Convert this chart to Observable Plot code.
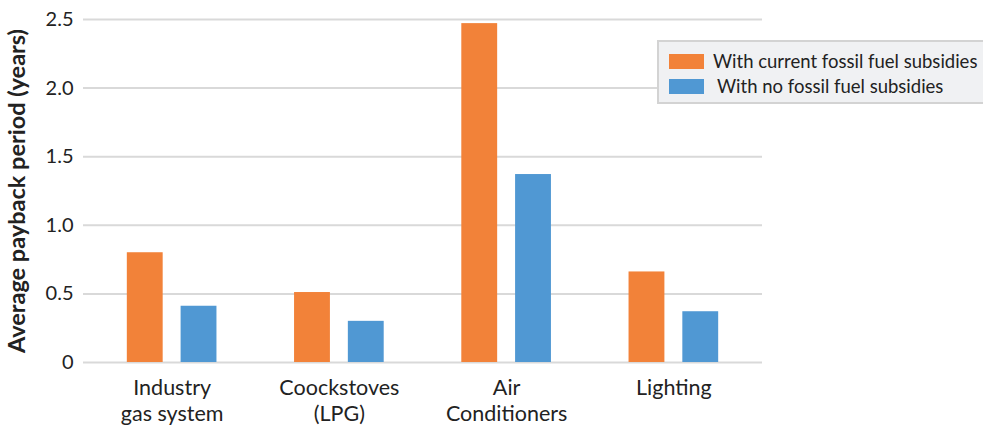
<!DOCTYPE html>
<html>
<head>
<meta charset="utf-8">
<script src="https://cdn.jsdelivr.net/npm/d3@7"></script>
<script src="https://cdn.jsdelivr.net/npm/@observablehq/plot@0.6"></script>
<style>
  body { margin: 0; background: #fff; overflow: hidden; }
  #chart { position: relative; width: 983px; height: 427px; overflow: hidden; font-family: Lato, sans-serif; }
  #chart svg g[aria-label="y-axis label"] text { font-weight: bold; font-size: 23.5px; }
  .legend {
    position: absolute; left: 657px; top: 40px; width: 400px; height: 64px;
    background: #f0f1f3; border: 2px solid #d3d3d3; box-sizing: border-box;
    font-family: Lato, sans-serif; font-size: 18.5px; color: #222;
  }
  .legend .item { position: absolute; left: 10px; height: 15px; line-height: 15px; display: flex; align-items: center; white-space: nowrap; }
  .legend .swatch { width: 35px; height: 15px; margin-right: 9px; }
</style>
</head>
<body>
<div id="chart"></div>
<script>
// Payback periods by technology, with and without fossil fuel subsidies
const categories = ["Industry\ngas system", "Coockstoves\n(LPG)", "Air\nConditioners", "Lighting"];
const series = ["With current fossil fuel subsidies", "With no fossil fuel subsidies"];
const withSubsidies = [0.80, 0.51, 2.47, 0.66];
const noSubsidies = [0.41, 0.30, 1.37, 0.37];
const yTicks = [0, 0.5, 1.0, 1.5, 2.0, 2.5];
const colors = ["#f28239", "#5098d3"];

// Grouped layout on a unit x domain: one band per category, split into one slot per series
const outer = d3.scaleBand().domain(categories).range([0, 1]).paddingInner(0.464).paddingOuter(0.262);
const inner = d3.scaleBand().domain(series).range([0, outer.bandwidth()]).paddingInner(1 / 3).paddingOuter(0);
const centers = categories.map(c => outer(c) + outer.bandwidth() / 2);

const rows = categories.flatMap((c, i) => [
  {category: c, series: series[0], value: withSubsidies[i]},
  {category: c, series: series[1], value: noSubsidies[i]}
]);

const chart = Plot.plot({
  width: 983,
  height: 427,
  marginLeft: 83,
  marginRight: 221,
  marginTop: 19,
  marginBottom: 65,
  style: {fontFamily: "Lato, sans-serif", fontSize: "20px", color: "#222", background: "#fff"},
  x: {type: "linear", domain: [0, 1]},
  y: {domain: [0, 2.5]},
  color: {domain: series, range: colors},
  marks: [
    Plot.ruleY(yTicks, {stroke: "#d9d9d9", strokeWidth: 2}),
    Plot.rectY(rows, {
      x1: d => outer(d.category) + inner(d.series),
      x2: d => outer(d.category) + inner(d.series) + inner.bandwidth(),
      y1: 0,
      y2: "value",
      fill: "series"
    }),
    Plot.axisX({
      ticks: centers, tickSize: 0, tickPadding: 14, label: null,
      fontSize: 21.5, lineHeight: 1.21,
      tickFormat: d => categories[d3.minIndex(centers, c => Math.abs(c - d))]
    }),
    Plot.axisY({
      ticks: yTicks, tickSize: 0, tickPadding: 10, fontSize: 20,
      tickFormat: d => d === 0 ? "0" : d.toFixed(1),
      label: "Average payback period (years)", labelAnchor: "center", labelArrow: "none", labelOffset: 75
    })
  ]
});
document.getElementById("chart").append(chart);

// Legend box drawn over the upper-right of the plot
const legend = document.createElement("div");
legend.className = "legend";
series.forEach((s, i) => {
  const item = document.createElement("div");
  item.className = "item";
  item.style.top = (i === 0 ? 12 : 37) + "px";
  const sw = document.createElement("span");
  sw.className = "swatch";
  sw.style.background = colors[i];
  if (i === 1) sw.style.marginRight = "13px";
  const label = document.createElement("span");
  label.textContent = s;
  item.append(sw, label);
  legend.append(item);
});
document.getElementById("chart").append(legend);
</script>
</body>
</html>
